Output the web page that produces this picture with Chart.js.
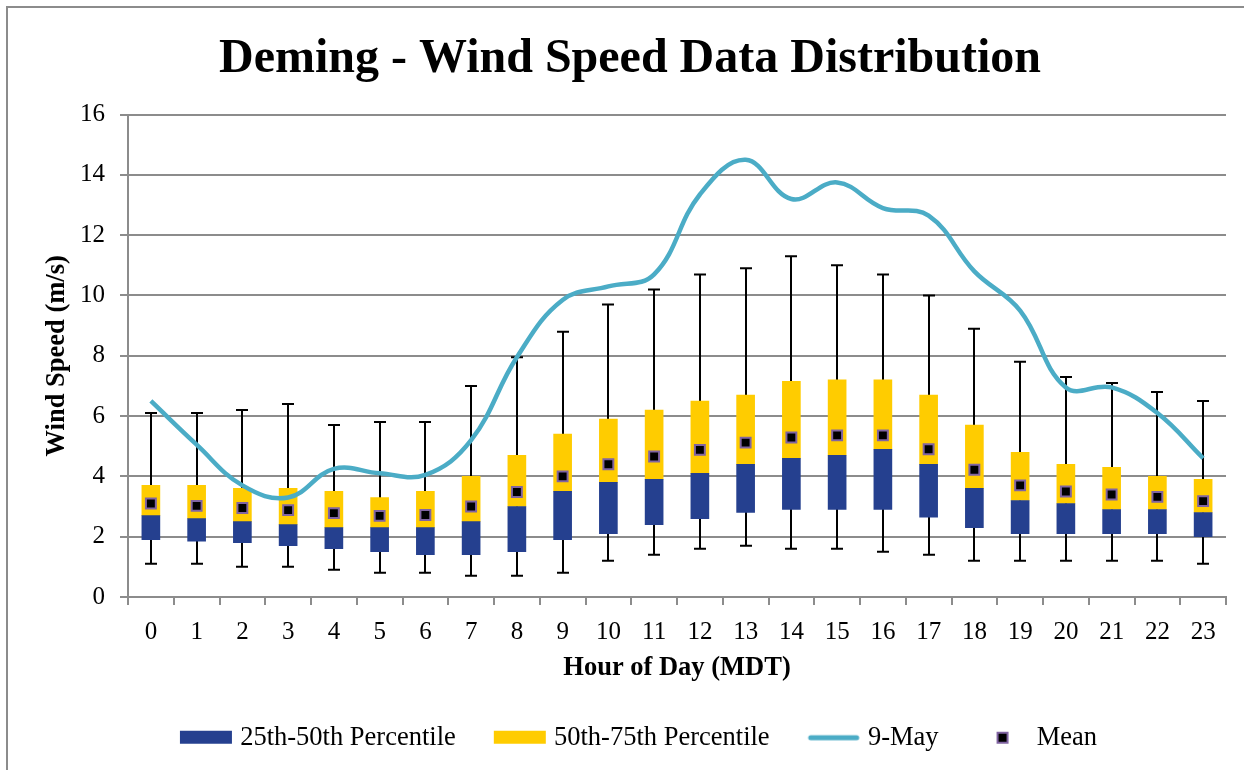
<!DOCTYPE html>
<html>
<head>
<meta charset="utf-8">
<script src="https://cdn.jsdelivr.net/npm/chart.js@4"></script>
<style>
  html, body { margin: 0; padding: 0; background: #fff; overflow: hidden; }
  #wrap { position: relative; width: 1244px; height: 770px; }
  #frame { position: absolute; left: 6px; top: 6px; width: 1260px; height: 800px; border: 2px solid #8c8c8c; box-sizing: border-box; pointer-events: none; }
</style>
</head>
<body>
<div id="wrap">
  <canvas id="chart" width="1244" height="770"></canvas>
  <div id="frame"></div>
</div>
<script>
const hours = ["0","1","2","3","4","5","6","7","8","9","10","11","12","13","14","15","16","17","18","19","20","21","22","23"];
const whiskerLow = [1.1,1.1,1.0,1.0,0.9,0.8,0.8,0.7,0.7,0.8,1.2,1.4,1.6,1.7,1.6,1.6,1.5,1.4,1.2,1.2,1.2,1.2,1.2,1.1];
const p25 = [1.9,1.85,1.8,1.7,1.6,1.5,1.4,1.4,1.5,1.9,2.1,2.4,2.6,2.8,2.9,2.9,2.9,2.65,2.3,2.1,2.1,2.1,2.1,2.0];
const p50 = [2.7,2.6,2.5,2.4,2.3,2.3,2.3,2.5,3.0,3.5,3.8,3.9,4.1,4.4,4.6,4.7,4.9,4.4,3.6,3.2,3.1,2.9,2.9,2.8];
const p75 = [3.7,3.7,3.6,3.6,3.5,3.3,3.5,4.0,4.7,5.4,5.9,6.2,6.5,6.7,7.15,7.2,7.2,6.7,5.7,4.8,4.4,4.3,4.0,3.9];
const whiskerHigh = [6.1,6.1,6.2,6.4,5.7,5.8,5.8,7.0,7.95,8.8,9.7,10.2,10.7,10.9,11.3,11.0,10.7,10.0,8.9,7.8,7.3,7.1,6.8,6.5];
const means = [3.1,3.02,2.95,2.88,2.78,2.69,2.72,3.0,3.48,4.0,4.4,4.66,4.88,5.12,5.29,5.36,5.36,4.9,4.22,3.7,3.5,3.4,3.32,3.18];
const may9 = [6.5,5.05,3.7,3.3,4.25,4.1,4.05,5.2,7.95,9.85,10.3,10.7,13.35,14.5,13.2,13.75,12.9,12.65,10.8,9.5,6.95,6.95,6.1,4.6];

const BLUE = "#25408f";
const YELLOW = "#ffcc00";
const TEAL = "#4bacc6";
const PURPLE = "#8064a2";
const GRID = "#8c8c8c";
const FONT = "'Liberation Serif', 'Times New Roman', serif";

// legend symbols: 52px wide symbol on the right of an 80px image
function legendIcon(kind) {
  const c = document.createElement("canvas");
  c.width = 80;
  c.height = 16;
  const g = c.getContext("2d");
  const x0 = 25;
  if (kind === "line") {
    g.strokeStyle = TEAL;
    g.lineWidth = 5;
    g.lineCap = "round";
    g.beginPath();
    g.moveTo(x0 + 3, 8);
    g.lineTo(x0 + 49, 8);
    g.stroke();
  } else if (kind === "mean") {
    g.fillStyle = PURPLE;
    g.fillRect(x0 + 20, 2, 12, 12);
    g.fillStyle = "#000";
    g.fillRect(x0 + 22, 4, 8, 8);
  } else {
    g.fillStyle = kind;
    g.fillRect(x0, 1, 52, 13);
  }
  return c;
}

// whiskers drawn behind the boxes, positioned by the chart scales
const whiskerPlugin = {
  id: "whiskers",
  beforeDatasetsDraw(chart) {
    const { ctx, scales } = chart;
    const x = scales.x, y = scales.y;
    ctx.save();
    ctx.strokeStyle = "#000";
    ctx.lineWidth = 2;
    hours.forEach((h, i) => {
      const px = Math.round(x.getPixelForValue(i));
      const top = y.getPixelForValue(whiskerHigh[i]);
      const bot = y.getPixelForValue(whiskerLow[i]);
      ctx.beginPath();
      ctx.moveTo(px, top);
      ctx.lineTo(px, bot);
      ctx.moveTo(px - 6, top);
      ctx.lineTo(px + 6, top);
      ctx.moveTo(px - 6, bot);
      ctx.lineTo(px + 6, bot);
      ctx.stroke();
    });
    ctx.restore();
  },
};

new Chart(document.getElementById("chart"), {
  data: {
    labels: hours,
    datasets: [
      {
        type: "bar",
        label: "25th-50th Percentile",
        data: hours.map((h, i) => [p25[i], p50[i]]),
        backgroundColor: BLUE,
        barThickness: 18,
        grouped: false,
        order: 3,
      },
      {
        type: "bar",
        label: "50th-75th Percentile",
        data: hours.map((h, i) => [p50[i], p75[i]]),
        backgroundColor: YELLOW,
        barThickness: 18,
        grouped: false,
        order: 3,
      },
      {
        type: "line",
        label: "9-May",
        data: may9,
        borderColor: TEAL,
        borderWidth: 4.5,
        tension: 0.4,
        pointRadius: 0,
        fill: false,
        order: 1,
      },
      {
        type: "line",
        label: "Mean",
        data: means,
        showLine: false,
        pointStyle: "rect",
        pointRadius: 7,
        pointBackgroundColor: "#000",
        pointBorderColor: PURPLE,
        pointBorderWidth: 2,
        order: 0,
      },
    ],
  },
  options: {
    responsive: false,
    animation: false,
    layout: { padding: { top: 20, right: 18, bottom: 9, left: 34 } },
    plugins: {
      tooltip: { enabled: false },
      title: {
        display: true,
        text: "Deming - Wind Speed Data Distribution",
        color: "#000",
        font: { family: FONT, size: 48, weight: "bold" },
        padding: { top: 11, bottom: 26 },
      },
      legend: {
        position: "bottom",
        labels: {
          color: "#000",
          font: { family: FONT, size: 26.5 },
          usePointStyle: true,
          pointStyleWidth: 64,
          boxHeight: 16,
          padding: 21,
          generateLabels() {
            return [
              { text: "25th-50th Percentile", pointStyle: legendIcon(BLUE), datasetIndex: 0 },
              { text: "50th-75th Percentile", pointStyle: legendIcon(YELLOW), datasetIndex: 1 },
              { text: "9-May", pointStyle: legendIcon("line"), datasetIndex: 2 },
              { text: "Mean", pointStyle: legendIcon("mean"), datasetIndex: 3 },
            ];
          },
        },
      },
    },
    scales: {
      x: {
        offset: true,
        grid: {
          offset: true,
          drawOnChartArea: false,
          drawTicks: true,
          tickLength: 8,
          color: GRID,
          lineWidth: 2,
        },
        border: { color: GRID, width: 2 },
        ticks: {
          color: "#000",
          font: { family: FONT, size: 25 },
          padding: 12,
          maxRotation: 0,
        },
        title: {
          display: true,
          text: "Hour of Day (MDT)",
          color: "#000",
          font: { family: FONT, size: 26.5, weight: "bold", lineHeight: 0.7 },
          padding: { top: 0, bottom: 26 },
        },
      },
      y: {
        min: 0,
        max: 16,
        afterFit(scale) { scale.width = 94; },
        grid: { color: GRID, lineWidth: 2, tickLength: 8 },
        border: { color: GRID, width: 2 },
        ticks: {
          stepSize: 2,
          color: "#000",
          font: { family: FONT, size: 25 },
          padding: 15,
        },
        title: {
          display: true,
          text: "Wind Speed (m/s)",
          color: "#000",
          font: { family: FONT, size: 26.5, weight: "bold" },
          padding: { top: 7, bottom: 0 },
        },
      },
    },
  },
  plugins: [whiskerPlugin],
});
</script>
</body>
</html>
